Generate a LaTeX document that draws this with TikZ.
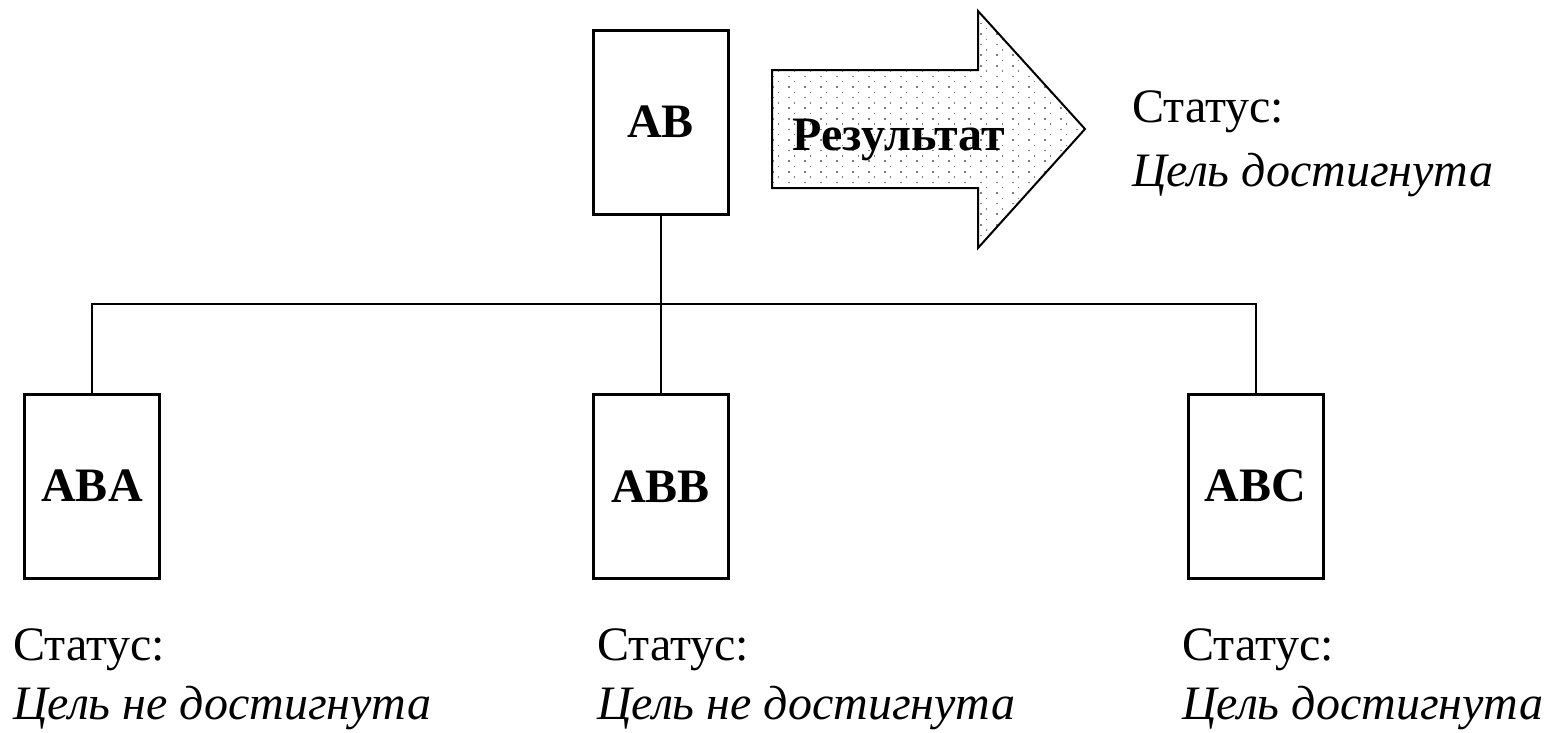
\documentclass[tikz,border=0pt]{standalone}
\usepackage{fontspec}
\setmainfont{Liberation Serif}
\begin{document}
\begin{tikzpicture}[x=1pt,y=-1pt,
  unit/.style={draw=black, line width=3pt, fill=white, minimum width=135pt,
    minimum height=184pt, inner sep=0pt, font=\fontsize{48}{58}\selectfont\bfseries},
  link/.style={draw=black, line width=2pt},
  stat/.style={anchor=base west, inner sep=0pt, font=\fontsize{48}{58}\selectfont},
  goal/.style={anchor=base west, inner sep=0pt, font=\fontsize{48}{58}\selectfont\itshape},
  dotc/.style={fill=black!50}]
\useasboundingbox (0,0) rectangle (1546,732);

% goal tree
\node[unit] (AB)  at (660.5,122) {AB};
\node[unit] (ABA) at (92,486)    {ABA};
\node[unit] (ABB) at (660.5,486.5) {ABB};
\node[unit] (ABC) at (1255.5,486) {ABC};

\coordinate (bus) at (660.5,304);
\draw[link] (AB.south) -- (ABB.north);
\draw[link] (ABA.north) |- (bus) -| (ABC.north);

% result arrow with dotted fill
\coordinate (a1) at (772,70);
\coordinate (a2) at (978,70);
\coordinate (a3) at (978,11);
\coordinate (a4) at (1085,129);
\coordinate (a5) at (978,248);
\coordinate (a6) at (978,188);
\coordinate (a7) at (772,188);
\begin{scope}
  \clip (a1) -- (a2) -- (a3) -- (a4) -- (a5) -- (a6) -- (a7) -- cycle;
  \foreach \r in {0,...,45} {
    \pgfmathsetmacro{\yy}{12+5.3*\r}
    \pgfmathsetmacro{\off}{mod(\r,2)*5.7}
    \foreach \c in {0,...,20} {
      \fill[dotc] (772+\off+16*\c,\yy) rectangle +(1.5,1.5);
    }
  }
\end{scope}
\draw[line width=2pt, line join=miter] (a1) -- (a2) -- (a3) -- (a4) -- (a5) -- (a6) -- (a7) -- cycle;
\node[inner sep=0pt, font=\fontsize{48}{58}\selectfont\bfseries, anchor=base] (res) at (899,150) {Результат};

% status labels
\node[stat] (s0) at (1132,122) {Статус:};
\node[goal] (g0) at (1132,186) {Цель достигнута};
\node[stat] (s1) at (13,660) {Статус:};
\node[goal] (g1) at (13,719) {Цель не достигнута};
\node[stat] (s2) at (597,660) {Статус:};
\node[goal] (g2) at (597,719) {Цель не достигнута};
\node[stat] (s3) at (1182,660) {Статус:};
\node[goal] (g3) at (1182,719) {Цель достигнута};
\end{tikzpicture}
\end{document}
